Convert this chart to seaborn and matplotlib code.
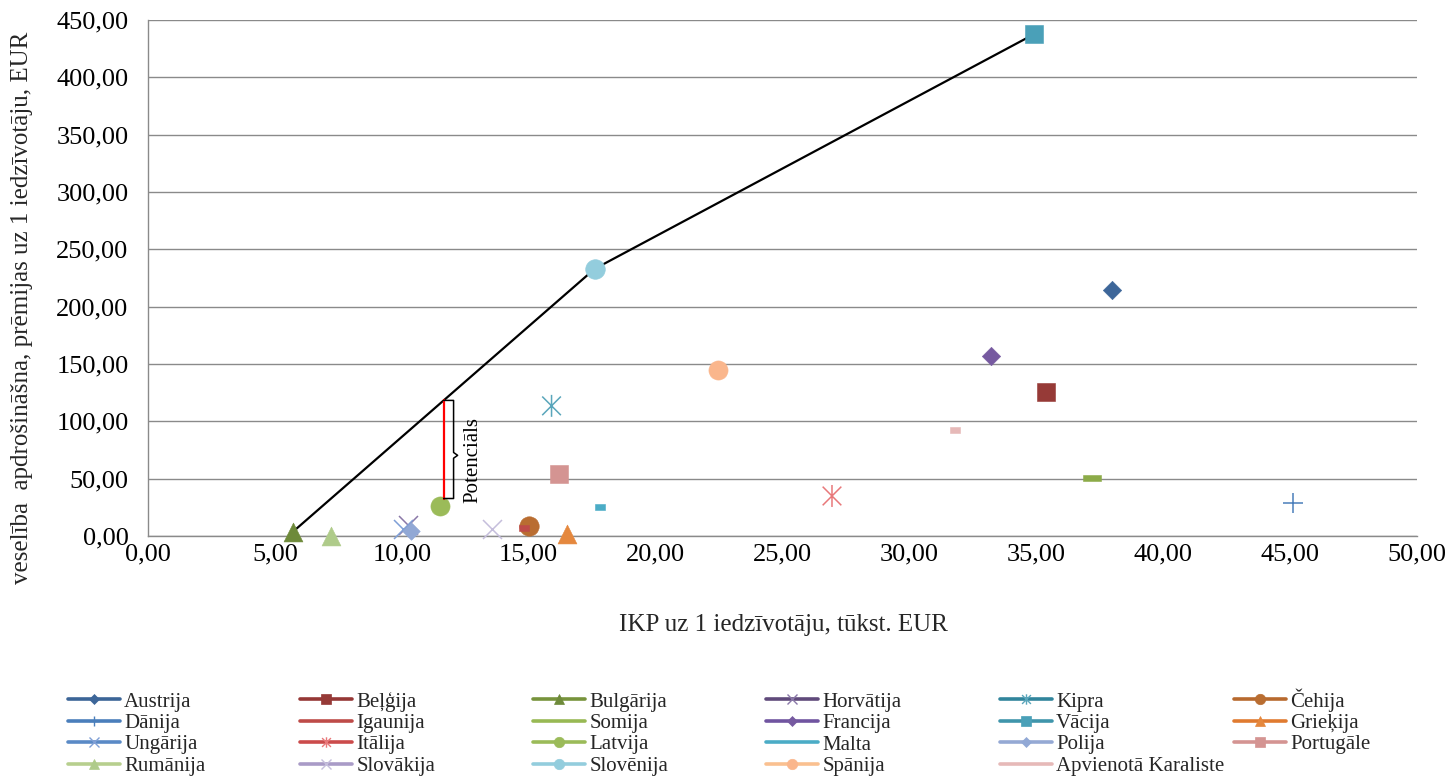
import numpy as np
import pandas as pd
import matplotlib
matplotlib.use("Agg")
import matplotlib.pyplot as plt
from matplotlib.path import Path
from matplotlib.lines import Line2D
from matplotlib.ticker import FixedLocator, FuncFormatter
import seaborn as sns

# ---- data -------------------------------------------------------------
countries = [
    "Austrija", "Beļģija", "Bulgārija", "Horvātija", "Kipra", "Čehija",
    "Dānija", "Igaunija", "Somija", "Francija", "Vācija", "Grieķija",
    "Ungārija", "Itālija", "Latvija", "Malta", "Polija", "Portugāle",
    "Rumānija", "Slovākija", "Slovēnija", "Spānija", "Apvienotā Karaliste",
]
# GDP per capita, thousand EUR
gdp_per_capita = [
    38.0, 35.4, 5.7, 10.25, 15.9, 15.0,
    45.1, 14.8, 37.2, 33.2, 34.9, 16.5,
    10.05, 26.95, 11.5, 17.8, 10.35, 16.2,
    7.2, 13.55, 17.6, 22.45, 31.8,
]
# health insurance premiums per capita, EUR
premiums_per_capita = [
    214.5, 125.3, 3.5, 9.5, 113.5, 8.7,
    28.5, 6.7, 50.9, 156.7, 437.5, 1.5,
    6.0, 34.9, 26.0, 25.1, 4.5, 53.8,
    0.3, 6.4, 233.0, 144.8, 92.2,
]
# countries forming the efficiency frontier
frontier_countries = ["Bulgārija", "Slovēnija", "Vācija"]
potential_country = "Latvija"

x_tick_values = [0, 5, 10, 15, 20, 25, 30, 35, 40, 45, 50]
y_tick_values = [0, 50, 100, 150, 200, 250, 300, 350, 400, 450]

x_label = "IKP uz 1 iedzīvotāju, tūkst. EUR"
y_label = "veselība  apdrošināšna, prēmijas uz 1 iedzīvotāju, EUR"
potential_label = "Potenciāls"

df = pd.DataFrame({"valsts": countries, "ikp": gdp_per_capita,
                   "premijas": premiums_per_capita})

# ---- marker shapes ----------------------------------------------------
M, L, C = Path.MOVETO, Path.LINETO, Path.CLOSEPOLY
DASH_SHORT = Path([(-1, -0.5), (1, -0.5), (1, 0.5), (-1, 0.5), (-1, -0.5)],
                  [M, L, L, L, C])
DASH_LONG = Path([(-1, -0.28), (1, -0.28), (1, 0.28), (-1, 0.28), (-1, -0.28)],
                 [M, L, L, L, C])
ASTER = Path([(0, -1), (0, 1), (-0.85, -0.85), (0.85, 0.85),
              (-0.85, 0.85), (0.85, -0.85)], [M, L, M, L, M, L])

# style per country: (marker, marker size pt^2, marker colour, legend line colour)
styles = {
    "Austrija": ("D", 88, "#3d6699", "#3c6597"),
    "Beļģija": ("s", 187, "#963a37", "#953735"),
    "Bulgārija": ("^", 185, "#6e8a3a", "#77933c"),
    "Horvātija": ("x", 187, "#8a78a8", "#604a7b"),
    "Kipra": (ASTER, 250, "#5aa6bb", "#31859c"),
    "Čehija": ("o", 196, "#b96d31", "#b7692e"),
    "Dānija": ("+", 196, "#4a7ebb", "#4a7ebb"),
    "Igaunija": (DASH_SHORT, 57, "#be4b48", "#be4b48"),
    "Somija": (DASH_LONG, 187, "#8cab48", "#98b954"),
    "Francija": ("D", 88, "#7659a0", "#7054a0"),
    "Vācija": ("s", 180, "#4aa0b8", "#3f95ab"),
    "Grieķija": ("^", 185, "#e5883e", "#e07b30"),
    "Ungārija": ("x", 187, "#7f9fd6", "#5a8ac6"),
    "Itālija": (ASTER, 250, "#e8787a", "#cb4b4b"),
    "Latvija": ("o", 190, "#9bbb59", "#9bbb59"),
    "Malta": (DASH_SHORT, 60, "#4bacc6", "#4bacc6"),
    "Polija": ("D", 80, "#91a8d5", "#95a9d4"),
    "Portugāle": ("s", 187, "#d49492", "#d49492"),
    "Rumānija": ("^", 185, "#afcb8a", "#b7cf8e"),
    "Slovākija": ("x", 187, "#c5bedc", "#a99bc7"),
    "Slovēnija": ("o", 200, "#93cddd", "#93cddd"),
    "Spānija": ("o", 190, "#fab68c", "#fac090"),
    "Apvienotā Karaliste": (DASH_SHORT, 57, "#e6b9b8", "#e6b9b8"),
}

# ---- theme ------------------------------------------------------------
sns.set_theme(style="white")
plt.rcParams["font.family"] = ["Liberation Serif", "DejaVu Serif"]
GRID = "#8a8a8a"
W, H = 1451, 776

fig = plt.figure(figsize=(W / 100, H / 100), dpi=100)
ax = fig.add_axes([148 / W, 1 - 536 / H, (1417 - 148) / W, (536 - 20) / H])

# efficiency frontier
front = df.set_index("valsts").loc[frontier_countries].reset_index()
sns.lineplot(data=front, x="ikp", y="premijas", sort=False, color="black",
             linewidth=1.6, ax=ax, zorder=3)

# country points
for name in countries:
    marker, size, mcol, _ = styles[name]
    sub = df[df["valsts"] == name]
    if isinstance(marker, str) and marker in ("x", "+"):
        sns.scatterplot(data=sub, x="ikp", y="premijas", marker=marker, s=size,
                        color=mcol, linewidth=1.1, ax=ax, zorder=4, clip_on=False)
    elif marker is ASTER:
        sns.scatterplot(data=sub, x="ikp", y="premijas", marker=marker, s=size,
                        facecolor="none", edgecolor=mcol, linewidth=1.1, ax=ax,
                        zorder=4, clip_on=False)
    else:
        sns.scatterplot(data=sub, x="ikp", y="premijas", marker=marker, s=size,
                        color=mcol, edgecolor=mcol, linewidth=0.4, ax=ax,
                        zorder=4, clip_on=False)

# potential gap for Latvia: from its marker up to the frontier
lv = df[df["valsts"] == potential_country].iloc[0]
gap_x = lv["ikp"] + 0.15
gap_top = float(np.interp(gap_x, front["ikp"], front["premijas"]))
gap_bottom = lv["premijas"] + 6.7
ax.plot([gap_x, gap_x], [gap_bottom, gap_top], color="#ff0000", lw=1.6, zorder=5)

# curly brace next to the gap
bx0, bx1, bx2 = gap_x, gap_x + 0.39, gap_x + 0.55
bmid = gap_bottom + (gap_top - gap_bottom) * 0.44
ax.plot([bx0, bx1, bx1, bx2, bx1, bx1, bx0],
        [gap_top, gap_top, bmid + 2.5, bmid, bmid - 2.5, gap_bottom, gap_bottom],
        color="black", lw=1.1, zorder=5, solid_joinstyle="round")
ax.text(bx2 + 0.6, (gap_top + gap_bottom) / 2 - 9, potential_label, rotation=90,
        ha="center", va="center", fontsize=15, color="black")

# axes formatting
ax.set_xlim(x_tick_values[0], x_tick_values[-1])
ax.set_ylim(y_tick_values[0], y_tick_values[-1])
ax.xaxis.set_major_locator(FixedLocator(x_tick_values))
ax.yaxis.set_major_locator(FixedLocator(y_tick_values))
fmt = FuncFormatter(lambda v, p: f"{v:.2f}".replace(".", ","))
ax.xaxis.set_major_formatter(fmt)
ax.yaxis.set_major_formatter(fmt)
ax.set_xlabel("")
ax.set_ylabel("")
ax.grid(axis="y", color=GRID, linewidth=1.0)
ax.grid(axis="x", visible=False)
ax.set_axisbelow(True)
for side in ("top", "right"):
    ax.spines[side].set_visible(False)
for side in ("left", "bottom"):
    ax.spines[side].set_color(GRID)
    ax.spines[side].set_linewidth(1.0)
ax.tick_params(axis="both", which="major", direction="out", length=5.5,
               width=1.0, color=GRID, labelsize=19, labelcolor="black")
ax.tick_params(axis="x", pad=0)
ax.tick_params(axis="y", pad=8.5)

fig.text(783 / W, 1 - 625 / H, x_label, ha="center", va="center", fontsize=18)
fig.text(22 / W, 1 - 308 / H, y_label, ha="center", va="center",
         rotation=90, fontsize=18)

# legend: six columns, filled row by row
col_x = [68, 300, 533, 766, 1000, 1234]
legend_top = 692
legends = []
for c, x0 in enumerate(col_x):
    handles, labels = [], []
    for name in countries[c::6]:
        marker, size, mcol, lcol = styles[name]
        if isinstance(marker, Path) and marker is not ASTER:
            h = Line2D([0], [0], color=lcol, lw=2.6)
        else:
            ms = {"D": 5.2, "s": 7.5}.get(marker, 7.5) if isinstance(marker, str) else 7.5
            lineart = marker is ASTER or marker in ("x", "+")
            h = Line2D([0], [0], color=lcol, lw=2.6, marker=marker, markersize=ms,
                       markerfacecolor=mcol, markeredgecolor=mcol,
                       markeredgewidth=1.0 if lineart else 0.5)
        handles.append(h)
        labels.append(name)
    lg = fig.legend(handles, labels, loc="upper left",
                    bbox_to_anchor=(x0 / W, 1 - legend_top / H),
                    frameon=False, fontsize=15, handlelength=2.5, handletextpad=0.2,
                    labelspacing=0.09, borderpad=0, borderaxespad=0)
    legends.append(lg)

# line the legend columns up on the baseline of their first row
fig.canvas.draw()
ref_y0 = legends[0].get_texts()[0].get_window_extent().y0
for lg, x0 in zip(legends[1:], col_x[1:]):
    dy = ref_y0 - lg.get_texts()[0].get_window_extent().y0
    lg.set_bbox_to_anchor((x0 / W, 1 - (legend_top - dy) / H), transform=fig.transFigure)

fig.savefig("out.png", dpi=100)
